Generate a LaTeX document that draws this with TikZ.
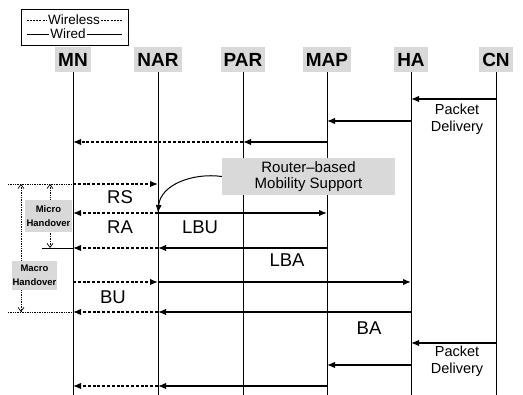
\documentclass[tikz,border=0pt]{standalone}
\usepackage{fontspec}
\setmainfont{Liberation Sans}
\usetikzlibrary{arrows.meta}
\begin{document}
\begin{tikzpicture}[x=1pt,y=-1pt,
  hdr/.style={fill=gray!30, inner xsep=3pt, inner ysep=0pt, minimum height=25pt, font=\fontsize{19}{19}\selectfont\bfseries},
  life/.style={line width=0.8pt},
  wired/.style={line width=1.4pt, -{Latex[length=8pt,width=6.5pt]}},
  wless/.style={line width=1.4pt, dash pattern=on 3pt off 1.8pt, -{Latex[length=8pt,width=6.5pt]}},
  lbl/.style={inner sep=0pt, font=\fontsize{18.5}{18.5}\selectfont},
  pd/.style={inner sep=0pt, align=center, font=\fontsize{14.5}{17}\selectfont},
  gbox/.style={fill=gray!30, align=center, inner sep=0pt},
  brk/.style={line width=0.7pt, densely dotted},
  barb/.style={brk, {Straight Barb[length=4pt,width=6pt]}-{Straight Barb[length=4pt,width=6pt]}},
  legtxt/.style={inner sep=0pt, font=\fontsize{13.5}{13.5}\selectfont},
  ]
\useasboundingbox (0,0) rectangle (523,395);

% legend
\node[draw, line width=0.8pt, minimum width=107pt, minimum height=36pt, inner sep=0pt] (leg) at (74.5,27) {};
\node[legtxt] (wl) at (74,20) {Wireless};
\node[legtxt] (wd) at (68,34) {Wired};
\draw[line width=0.9pt, dash pattern=on 2pt off 1.2pt] ([xshift=6pt]leg.west |- wl) -- ([xshift=-1pt]wl.west);
\draw[line width=0.9pt, dash pattern=on 2pt off 1.2pt] ([xshift=1pt]wl.east) -- ([xshift=-6pt]leg.east |- wl);
\draw[line width=0.9pt] ([xshift=6pt]leg.west |- wd) -- ([xshift=-1pt]wd.west);
\draw[line width=0.9pt] ([xshift=1pt]wd.east) -- ([xshift=-6pt]leg.east |- wd);

% headers
\node[hdr] (MN)  at (73,59.5)  {MN};
\node[hdr] (NAR) at (158,59.5) {NAR};
\node[hdr] (PAR) at (243,59.5) {PAR};
\node[hdr] (MAP) at (327,59.5) {MAP};
\node[hdr] (HA)  at (411,59.5) {HA};
\node[hdr] (CN)  at (496,59.5) {CN};

\coordinate (bot) at (0,395);
\foreach \n in {MN,NAR,PAR,MAP,HA,CN} \draw[life] (\n.south) -- (\n |- bot);

% rows
\coordinate (r1) at (0,99);
\coordinate (r2) at (0,121);
\coordinate (r3) at (0,142);
\coordinate (r4) at (0,184);
\coordinate (r5) at (0,213);
\coordinate (r6) at (0,248);
\coordinate (r7) at (0,282);
\coordinate (r8) at (0,312);
\coordinate (r9) at (0,343);
\coordinate (r10) at (0,365);
\coordinate (r11) at (0,386);

% handover brackets
\coordinate (bl1) at (8,184);
\coordinate (bl2) at (8,312);
\coordinate (ml) at (42,248);
\coordinate (ma1) at (21,184);
\coordinate (ma2) at (21,312);
\coordinate (mi1) at (50,184);
\coordinate (mi2) at (50,248);
\draw[brk] (bl1) -- (MN |- r4);
\draw[brk] (bl2) -- (MN |- r8);
\draw[line width=0.8pt] (ml) -- (MN |- r6);
\draw[barb] (ma1) -- (ma2);
\draw[barb] (mi1) -- (mi2);
\node[gbox, minimum width=47pt, minimum height=32pt, font=\fontsize{9.5}{14}\selectfont\bfseries] (micro) at (48.5,216) {Micro\\Handover};
\node[gbox, minimum width=45pt, minimum height=29pt, font=\fontsize{9.5}{14}\selectfont\bfseries] (macro) at (34.5,275.5) {Macro\\Handover};

% messages
\draw[wired] (CN |- r1) -- (HA |- r1);
\draw[wired] (HA |- r2) -- (MAP |- r2);
\draw[wired] (MAP |- r3) -- (PAR |- r3);
\draw[wless] (PAR |- r3) -- (MN |- r3);
\draw[wless] (MN |- r4) -- (NAR |- r4);
\draw[wless] (NAR |- r5) -- (MN |- r5);
\draw[wired] (NAR |- r5) -- (MAP |- r5);
\draw[wired] (MAP |- r6) -- (NAR |- r6);
\draw[wless] (NAR |- r6) -- (MN |- r6);
\draw[wless] (MN |- r7) -- (NAR |- r7);
\draw[wired] (NAR |- r7) -- (HA |- r7);
\draw[wired] (HA |- r8) -- (NAR |- r8);
\draw[wless] (NAR |- r8) -- (MN |- r8);
\draw[wired] (CN |- r9) -- (HA |- r9);
\draw[wired] (HA |- r10) -- (MAP |- r10);
\draw[wired] (MAP |- r11) -- (NAR |- r11);
\draw[wless] (NAR |- r11) -- (MN |- r11);

% labels
\node[lbl] (RS)  at (120,197) {RS};
\node[lbl] (RA)  at (120,227) {RA};
\node[lbl] (LBU) at (200,227) {LBU};
\node[lbl] (LBA) at (287,260) {LBA};
\node[lbl] (BU)  at (113,297) {BU};
\node[lbl] (BA)  at (369,328) {BA};
\node[pd] (pd1) at (457,119) {Packet\\Delivery};
\node[pd] (pd2) at (457,361) {Packet\\Delivery};

% router-based box and curved arrow
\node[gbox, minimum width=173pt, minimum height=37pt, font=\fontsize{15}{16}\selectfont] (RB) at (308.5,176.5) {Router--based\\Mobility Support};
\draw[line width=1pt, -{Latex[length=8pt,width=6pt]}] (RB.west) to[out=172,in=85] (NAR |- r5);
\end{tikzpicture}
\end{document}
